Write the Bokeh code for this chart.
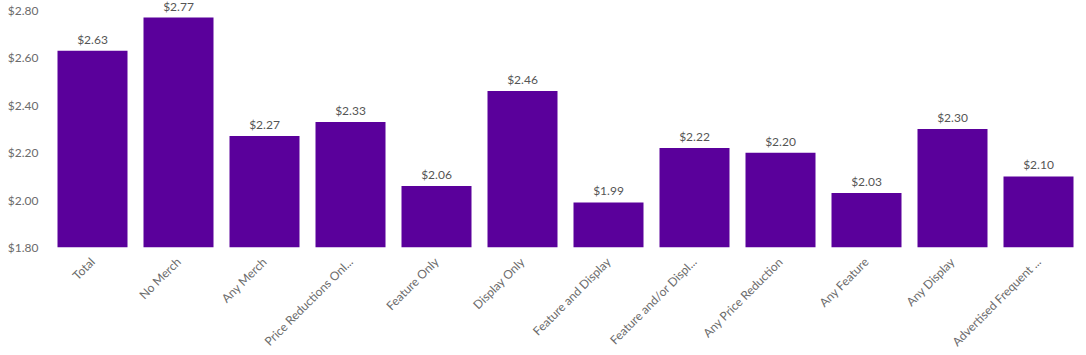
from bokeh.plotting import figure
from bokeh.models import ColumnDataSource, NumeralTickFormatter, FixedTicker, Range1d
from bokeh.core.properties import value
from bokeh.embed import file_html
from bokeh.resources import INLINE
import math

categories = ["Total", "No Merch", "Any Merch", "Price Reductions Onl...", "Feature Only",
              "Display Only", "Feature and Display", "Feature and/or Displ...",
              "Any Price Reduction", "Any Feature", "Any Display", "Advertised Frequent ..."]
values = [2.63, 2.77, 2.27, 2.33, 2.06, 2.46, 1.99, 2.22, 2.20, 2.03, 2.30, 2.10]
labels = ["$%.2f" % v for v in values]
y_ticks = [1.8, 2.0, 2.2, 2.4, 2.6, 2.8]

FONT = "Lato"
src = ColumnDataSource(dict(cat=categories, val=values, lab=labels))

p = figure(x_range=categories, y_range=Range1d(1.8, 2.8), output_backend="svg",
           toolbar_location=None, frame_width=1032, frame_height=237,
           min_border_left=49, min_border_right=0, min_border_top=10, min_border_bottom=0)
p.outline_line_color = None
p.background_fill_color = "white"
p.border_fill_color = "white"

p.vbar(x="cat", top="val", bottom=1.8, width=0.814, source=src,
       fill_color="#5a009b", line_color=None)
p.text(x="cat", y="val", text="lab", source=src, text_align="center",
       text_baseline="bottom", y_offset=-4, text_font=value(FONT),
       text_font_size="12px", text_color="#555555", level="overlay")

p.xgrid.grid_line_color = None
p.ygrid.grid_line_color = None

p.yaxis.ticker = FixedTicker(ticks=y_ticks)
p.yaxis.formatter = NumeralTickFormatter(format="$0.00")
for ax in (p.xaxis, p.yaxis):
    ax.axis_line_color = None
    ax.major_tick_line_color = None
    ax.minor_tick_line_color = None
    ax.major_label_text_font = FONT
    ax.major_label_text_font_size = "12px"
    ax.major_label_text_color = "#6b6b6b"
p.yaxis.major_label_standoff = 5
p.xaxis.major_label_orientation = math.pi / 4
p.xaxis.major_label_standoff = 6

open("out.html", "w").write(file_html(p, INLINE))
